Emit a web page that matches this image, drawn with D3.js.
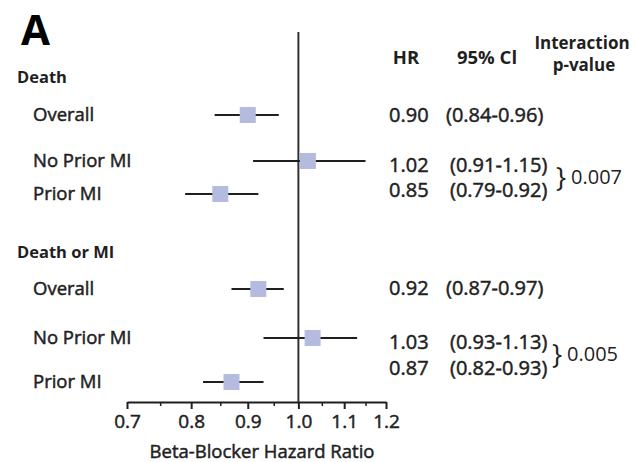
<!DOCTYPE html>
<html>
<head>
<meta charset="utf-8">
<script src="https://cdn.jsdelivr.net/npm/d3@7"></script>
<style>
  body { margin: 0; background: #fff; }
  svg { display: block; font-family: "Open Sans", "Noto Sans", sans-serif; }
  .med { stroke: #1f1f1f; stroke-width: 0.5px; paint-order: stroke; }
</style>
</head>
<body>
<svg id="chart" width="635" height="462"></svg>
<script>
// Data
const groups = ["Death", "Death or MI"];
const labels = ["Overall", "No Prior MI", "Prior MI", "Overall", "No Prior MI", "Prior MI"];
const hr = [0.90, 1.02, 0.85, 0.92, 1.03, 0.87];
const ciLow = [0.84, 0.91, 0.79, 0.87, 0.93, 0.82];
const ciHigh = [0.96, 1.15, 0.92, 0.97, 1.13, 0.93];
const pInteraction = ["0.007", "0.005"];
const majorTicks = [0.7, 0.8, 0.9, 1.0, 1.1, 1.2];
const minorTicks = [0.75, 0.85, 0.95, 1.05, 1.15];

// Layout
const rowY = [115, 161, 194, 289, 338, 382];
const textY = [115, 165, 190, 288, 342, 368];
const groupY = [77, 252];
const braceY = [178, 355];
const axisY = 402;
const ink = "#1f1f1f";
const boxColor = "#b5badf";

const svg = d3.select("#chart");

const x = d3.scaleLog().domain([0.7, 1.2]).range([127, 386]);

// Panel letter
svg.append("text")
    .attr("x", 21).attr("y", 45)
    .attr("font-size", 42).attr("font-weight", 700)
    .attr("fill", "#000")
    .text("A");

// Group headers
svg.selectAll("text.group")
    .data(groups)
    .enter().append("text")
    .attr("class", "group")
    .attr("x", 17)
    .attr("y", (d, i) => groupY[i])
    .attr("dy", "0.35em")
    .attr("font-size", 16.5).attr("font-weight", 700)
    .attr("fill", ink)
    .text(d => d);

// Row labels
svg.selectAll("text.label")
    .data(labels)
    .enter().append("text")
    .attr("class", "label med")
    .attr("x", 33)
    .attr("y", (d, i) => rowY[i])
    .attr("dy", "0.35em")
    .attr("font-size", 18.5)
    .attr("fill", ink)
    .text(d => d);

// Reference line at HR = 1
svg.append("line")
    .attr("x1", x(1)).attr("x2", x(1))
    .attr("y1", 32).attr("y2", axisY)
    .attr("stroke", "#333").attr("stroke-width", 2);

// Axis
const axis = svg.append("g")
    .attr("transform", `translate(0,${axisY})`)
    .call(d3.axisBottom(x)
        .tickValues(majorTicks)
        .tickFormat(d3.format(".1f"))
        .tickSize(7)
        .tickSizeOuter(0)
        .tickPadding(6));
axis.select(".domain").attr("stroke", ink).attr("stroke-width", 2);
axis.selectAll(".tick line").attr("stroke", ink).attr("stroke-width", 2);
axis.selectAll(".tick text")
    .attr("class", "med")
    .attr("font-size", 19)
    .attr("font-family", "\"Open Sans\", sans-serif")
    .attr("fill", ink);

const minor = svg.append("g")
    .attr("transform", `translate(0,${axisY})`)
    .call(d3.axisBottom(x).tickValues(minorTicks).tickFormat("").tickSize(4).tickSizeOuter(0));
minor.select(".domain").remove();
minor.selectAll(".tick line").attr("stroke", ink).attr("stroke-width", 1.5);

svg.append("text")
    .attr("class", "med")
    .attr("x", 262)
    .attr("y", 458)
    .attr("text-anchor", "middle")
    .attr("font-size", 18.5)
    .attr("fill", ink)
    .text("Beta-Blocker Hazard Ratio");

// CI whiskers and boxes
svg.selectAll("line.ci")
    .data(hr)
    .enter().append("line")
    .attr("class", "ci")
    .attr("x1", (d, i) => x(ciLow[i]))
    .attr("x2", (d, i) => x(ciHigh[i]))
    .attr("y1", (d, i) => rowY[i])
    .attr("y2", (d, i) => rowY[i])
    .attr("stroke", ink).attr("stroke-width", 2);

const box = 16;
svg.selectAll("rect.hr")
    .data(hr)
    .enter().append("rect")
    .attr("class", "hr")
    .attr("x", d => x(d) - box / 2)
    .attr("y", (d, i) => rowY[i] - box / 2)
    .attr("width", box).attr("height", box)
    .attr("fill", boxColor);

// Column headers
const head = svg.append("g").attr("font-weight", 700).attr("fill", ink).attr("text-anchor", "middle");
head.append("text").attr("x", 406).attr("y", 64).attr("font-size", 18.5).text("HR");
head.append("text").attr("x", 487).attr("y", 64).attr("font-size", 18.5).text("95% Cl");
head.append("text").attr("x", 582).attr("y", 49).attr("font-size", 17).text("Interaction");
head.append("text").attr("x", 584).attr("y", 71).attr("font-size", 17).text("p-value");

// HR and CI text
svg.selectAll("text.hrval")
    .data(hr)
    .enter().append("text")
    .attr("class", "hrval med")
    .attr("x", 389)
    .attr("y", (d, i) => textY[i])
    .attr("dy", "0.35em")
    .attr("font-size", 20)
    .attr("fill", ink)
    .text(d => d3.format(".2f")(d));

svg.selectAll("text.cival")
    .data(hr)
    .enter().append("text")
    .attr("class", "cival med")
    .attr("x", (d, i) => labels[i] === "Overall" ? 446 : 450)
    .attr("y", (d, i) => textY[i])
    .attr("dy", "0.35em")
    .attr("font-size", 20)
    .attr("fill", ink)
    .text((d, i) => `(${d3.format(".2f")(ciLow[i])}-${d3.format(".2f")(ciHigh[i])})`);

// Interaction braces and p-values
const braceX = [556, 552];
pInteraction.forEach((p, i) => {
    svg.append("text")
        .attr("x", braceX[i]).attr("y", braceY[i])
        .attr("dy", "0.35em")
        .attr("font-size", 27)
        .attr("fill", ink)
        .text("}");
    svg.append("text")
        .attr("x", braceX[i] + 15).attr("y", braceY[i] - 1)
        .attr("dy", "0.35em")
        .attr("font-size", 20)
        .attr("fill", ink)
        .text(p);
});
</script>
</body>
</html>
